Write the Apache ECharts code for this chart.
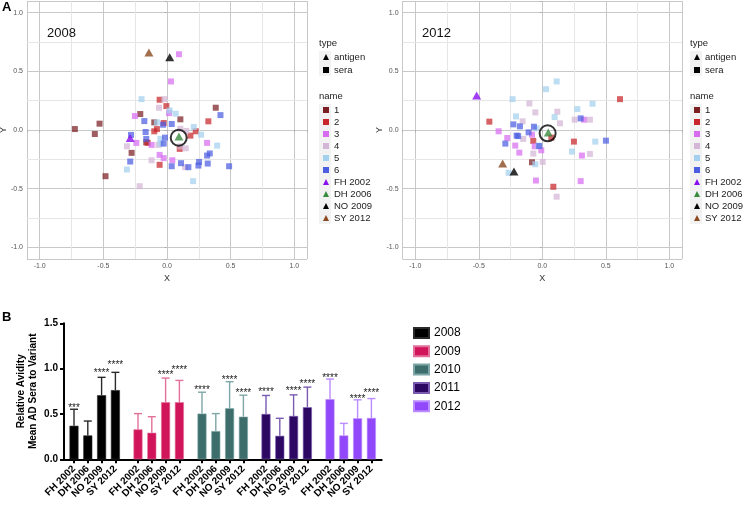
<!DOCTYPE html>
<html>
<head>
<meta charset="utf-8">
<script src="https://cdn.jsdelivr.net/npm/echarts@6/dist/echarts.min.js"></script>
<style>
  html, body { margin: 0; padding: 0; background: #fff; }
  #main { width: 747px; height: 505px; }
</style>
</head>
<body>
<div id="main"></div>
<script>
var F = '"Liberation Sans", Arial, sans-serif';

// ---- panel A: antigenic maps ----
var seraNames = ['1', '2', '3', '4', '5', '6'];
var antigenNames = ['FH 2002', 'DH 2006', 'NO 2009', 'SY 2012'];
var seraColors = ['#7a1f22', '#c8262a', '#d76cf0', '#d4b6d6', '#a3d0ee', '#4b5de0'];
var antigenColors = ['#8a0ff0', '#3a8a3e', '#000000', '#8b4a22'];
var gridMinor = [-0.75, -0.25, 0.25, 0.75];

// 2008 sera, one array per name
var s08_1 = [[-0.21, 0.136], [0.105, 0.091], [-0.1, 0.065], [0.383, 0.19], [-0.724, 0.008], [-0.53, 0.054],
  [-0.567, -0.034], [-0.163, -0.105], [-0.278, -0.195], [-0.483, -0.394]];
var s08_2 = [[-0.058, 0.258], [-0.005, 0.204], [-0.026, 0.06], [0.325, 0.074], [-0.1, -0.011], [-0.079, 0.008],
  [0.226, -0.011], [0.184, -0.048], [-0.152, -0.11], [0.1, -0.161], [-0.058, -0.297]];
var s08_3 = [[0.094, 0.646], [0.031, 0.414], [0.016, 0.144], [-0.252, 0.119], [-0.241, -0.11], [-0.121, -0.127],
  [0.315, -0.11], [-0.058, -0.212], [-0.026, -0.24], [0.042, -0.258]];
var s08_4 = [[-0.021, 0.263], [-0.063, 0.19], [0.105, 0.011], [0.152, -0.008], [-0.315, -0.139], [-0.068, -0.127],
  [0.105, -0.14], [0.147, -0.156], [-0.121, -0.258], [0.142, -0.317], [-0.215, -0.479]];
var s08_5 = [[-0.2, 0.263], [0.021, 0.167], [0.068, 0.139], [-0.079, 0.065], [0.21, 0.025], [0.268, -0.04],
  [-0.052, -0.076], [-0.05, -0.116], [0.394, -0.133], [-0.315, -0.337], [0.205, -0.436]];
var s08_6 = [[-0.178, 0.076], [-0.031, 0.045], [0.037, 0.051], [0.42, 0.127], [-0.283, -0.042], [-0.168, -0.017],
  [-0.163, -0.076], [-0.016, -0.065], [-0.026, -0.116], [0.037, -0.309], [0.11, -0.283], [0.168, -0.317],
  [0.252, -0.272], [0.247, -0.303], [0.315, -0.218], [0.336, -0.2], [0.32, -0.286], [0.488, -0.309], [-0.289, -0.269]];
var antigen2008 = [[-0.289, -0.068], [0.094, -0.056], [0.021, 0.62], [-0.142, 0.66]];
var ring2008 = [0.092, -0.066];

// 2012 sera
var s12_1 = [[-0.081, -0.275]];
var s12_2 = [[0.612, 0.263], [-0.417, 0.071], [-0.071, -0.093], [0.071, -0.065], [0.249, -0.099], [0.087, -0.484]];
var s12_3 = [[0.328, 0.088], [-0.344, -0.011], [-0.081, -0.04], [-0.276, -0.068], [-0.213, -0.133], [-0.06, -0.139],
  [-0.008, -0.173], [0.312, -0.218], [-0.181, -0.193], [-0.05, -0.431], [0.302, -0.436]];
var s12_4 = [[-0.102, 0.227], [0.118, 0.156], [-0.055, 0.15], [-0.155, 0.074], [0.139, 0.057], [0.255, 0.088],
  [0.375, 0.088], [-0.15, -0.076], [0.375, -0.204], [-0.071, -0.201], [0.003, -0.272], [0.113, -0.569]];
var s12_5 = [[0.113, 0.414], [0.029, 0.348], [-0.234, 0.263], [0.276, 0.178], [0.396, 0.224], [-0.207, 0.116],
  [0.097, 0.11], [-0.045, 0.014], [-0.029, -0.133], [0.417, -0.099], [0.234, -0.184], [-0.055, -0.292], [-0.265, -0.365]];
var s12_6 = [[-0.228, 0.048], [-0.176, 0.031], [-0.066, 0.028], [0.302, 0.099], [-0.108, -0.02], [-0.202, -0.048],
  [-0.19, -0.052], [-0.291, -0.116], [-0.024, -0.137], [0.501, -0.091]];
var antigen2012 = [[-0.517, 0.295], [0.047, -0.022], [-0.223, -0.354], [-0.312, -0.286]];
var ring2012 = [0.042, -0.028];

// ---- panel B: relative avidity ----
var years = ['2008', '2009', '2010', '2011', '2012'];
var variants = ['FH 2002', 'DH 2006', 'NO 2009', 'SY 2012'];
var barColors = ['#000000', '#d0155a', '#3d6e6c', '#2d0862', '#9147fa'];
var errColors = ['#2a2a2a', '#e2709a', '#7ea6a6', '#7a5bb0', '#bb8cff'];
var barMeans = [
  [0.37, 0.263, 0.707, 0.763],
  [0.33, 0.293, 0.63, 0.63],
  [0.504, 0.311, 0.563, 0.47],
  [0.5, 0.259, 0.478, 0.574],
  [0.663, 0.263, 0.452, 0.456]
];
var barErrs = [
  [0.552, 0.422, 0.904, 0.959],
  [0.504, 0.47, 0.896, 0.87],
  [0.74, 0.504, 0.856, 0.707],
  [0.704, 0.452, 0.711, 0.796],
  [0.885, 0.396, 0.656, 0.67]
];
var starText = [
  ['***', '', '****', '****'],
  ['', '', '****', '****'],
  ['****', '', '****', '****'],
  ['****', '', '****', '****'],
  ['****', '', '****', '****']
];
var starLevel = [
  [0.589, null, 0.978, 1.07],
  [null, null, 0.952, 1.007],
  [0.785, null, 0.904, 0.759],
  [0.763, null, 0.778, 0.859],
  [0.926, null, 0.685, 0.756]
];

var panels = [
  { year: '2008', left: 27, width: 280, sera: [s08_1, s08_2, s08_3, s08_4, s08_5, s08_6], ag: antigen2008, ring: ring2008, legendLeft: 323, textLeft: 47 },
  { year: '2012', left: 402.6, width: 279.4, sera: [s12_1, s12_2, s12_3, s12_4, s12_5, s12_6], ag: antigen2012, ring: ring2012, legendLeft: 694, textLeft: 422 }
];

var chart = echarts.init(document.getElementById('main'));

function halfLabel(v) {
  var t = v * 2;
  return Math.abs(t - Math.round(t)) < 1e-6 ? v.toFixed(1) : '';
}

function mapAxis(k, isY) {
  return {
    type: 'value', gridIndex: k, min: -1.1, max: 1.1,
    name: isY ? 'Y' : 'X', nameLocation: 'middle', nameGap: isY ? 19 : 15,
    nameRotate: isY ? 90 : 0, nameMoveOverlap: false,
    nameTextStyle: { fontSize: 9, color: '#333', fontFamily: F },
    axisLine: { show: false },
    axisTick: { show: true, length: 2.5, lineStyle: { color: '#aaa', width: 0.8 } },
    axisLabel: { fontSize: 7, color: '#555', margin: 4, fontFamily: F, formatter: halfLabel },
    splitLine: { show: true, lineStyle: { color: '#c8c8c8', width: 1 } }
  };
}

var grids = [], xAxes = [], yAxes = [], series = [], legends = [], titles = [], graphics = [];

panels.forEach(function (p, k) {
  grids.push({ left: p.left, top: 1, width: p.width, height: 258, outerBoundsMode: 'none' });
  xAxes.push(mapAxis(k, false));
  yAxes.push(mapAxis(k, true));

  // minor grid lines
  series.push({
    type: 'scatter', name: 'minor' + k, xAxisIndex: k, yAxisIndex: k, data: [], silent: true,
    markLine: {
      silent: true, z: 1, animation: false, symbol: ['none', 'none'], label: { show: false },
      lineStyle: { color: '#e6e6e6', width: 1, type: 'solid' },
      emphasis: { disabled: true },
      data: gridMinor.map(function (v) { return { xAxis: v }; })
        .concat(gridMinor.map(function (v) { return { yAxis: v }; }))
    }
  });

  seraNames.forEach(function (n, j) {
    series.push({
      type: 'scatter', name: n, xAxisIndex: k, yAxisIndex: k, symbol: 'rect', symbolSize: 6,
      itemStyle: { color: seraColors[j], opacity: 0.72 }, z: 2, data: p.sera[j]
    });
  });
  antigenNames.forEach(function (n, j) {
    series.push({
      type: 'scatter', name: n, xAxisIndex: k, yAxisIndex: k, symbol: 'triangle', symbolSize: [9, 8],
      itemStyle: { color: antigenColors[j] }, z: 3, data: [p.ag[j]]
    });
  });
  series.push({
    type: 'scatter', name: 'ring' + k, xAxisIndex: k, yAxisIndex: k, symbol: 'circle', symbolSize: 16,
    itemStyle: { color: 'rgba(0,0,0,0)', borderColor: '#000', borderWidth: 2 }, z: 4, data: [p.ring]
  });

  titles.push({ text: p.year, left: p.textLeft, top: 27, padding: 0, textStyle: { fontSize: 13, fontWeight: 'normal', color: '#111', fontFamily: F } });
  titles.push({ text: 'type', left: p.legendLeft - 4, top: 38, padding: 0, textStyle: { fontSize: 9.5, fontWeight: 'normal', color: '#222', fontFamily: F } });
  titles.push({ text: 'name', left: p.legendLeft - 4, top: 91, padding: 0, textStyle: { fontSize: 9.5, fontWeight: 'normal', color: '#222', fontFamily: F } });

  var legText = { fontSize: 9.5, color: '#222', lineHeight: 10, fontFamily: F };
  legends.push({
    orient: 'vertical', left: p.legendLeft, top: 52, padding: 0, itemWidth: 6, itemHeight: 6, itemGap: 3,
    selectedMode: false, itemStyle: { opacity: 1 }, textStyle: legText, data: ['antigen', 'sera']
  });
  legends.push({
    orient: 'vertical', left: p.legendLeft, top: 105, padding: 0, itemWidth: 6, itemHeight: 6, itemGap: 2,
    selectedMode: false, itemStyle: { opacity: 1 }, textStyle: legText, data: seraNames.concat(antigenNames)
  });

  graphics.push({ type: 'rect', shape: { x: p.legendLeft - 4, y: 51, width: 12, height: 25 }, style: { fill: '#f2f2f2' }, z: 0 });
  graphics.push({ type: 'rect', shape: { x: p.legendLeft - 4, y: 104, width: 12, height: 120 }, style: { fill: '#f2f2f2' }, z: 0 });
});

// legend-only series for the "type" keys
series.push({ type: 'scatter', name: 'antigen', symbol: 'triangle', xAxisIndex: 0, yAxisIndex: 0, itemStyle: { color: '#000' }, data: [] });
series.push({ type: 'scatter', name: 'sera', symbol: 'rect', xAxisIndex: 0, yAxisIndex: 0, itemStyle: { color: '#000' }, data: [] });

// ---- panel B layout ----
var barTop = 323.3, barH = 136;
// full-width axis frame (index 2)
grids.push({ left: 64, top: barTop, width: 317.7, height: barH, outerBoundsMode: 'none' });
xAxes.push({
  type: 'value', gridIndex: 2, min: 0, max: 1,
  axisLine: { show: true, lineStyle: { color: '#000', width: 2 } },
  axisTick: { show: false }, axisLabel: { show: false }, splitLine: { show: false }
});
yAxes.push({
  type: 'value', gridIndex: 2, min: 0, max: 1.5, interval: 0.5,
  name: 'Relative Avidity\nMean AD Sera to Variant', nameLocation: 'middle', nameGap: 25, nameMoveOverlap: false,
  nameTextStyle: { fontSize: 10, fontWeight: 'bold', color: '#000', lineHeight: 12, fontFamily: F },
  axisLine: { show: true, lineStyle: { color: '#000', width: 2 } },
  axisTick: { show: true, length: 4, lineStyle: { color: '#000', width: 2 } },
  axisLabel: { fontSize: 10, fontWeight: 'bold', color: '#000', margin: 6, fontFamily: F, formatter: function (v) { return v.toFixed(1); } },
  splitLine: { show: false }
});
series.push({ type: 'line', xAxisIndex: 2, yAxisIndex: 2, data: [], silent: true });

function errRender(g) {
  return function (params, api) {
    var i = params.dataIndex;
    var base = api.coord([i, barMeans[g][i]]);
    var top = api.coord([i, barErrs[g][i]]);
    var st = { stroke: errColors[g], lineWidth: 1.4 };
    var kids = [
      { type: 'line', shape: { x1: base[0], y1: base[1], x2: top[0], y2: top[1] }, style: st },
      { type: 'line', shape: { x1: top[0] - 4, y1: top[1], x2: top[0] + 4, y2: top[1] }, style: st }
    ];
    if (starText[g][i]) {
      var s = api.coord([i, starLevel[g][i]]);
      kids.push({
        type: 'text',
        style: {
          text: starText[g][i], x: s[0], y: s[1] + 2.5, textAlign: 'center', align: 'center',
          textVerticalAlign: 'middle', verticalAlign: 'middle', font: '10px ' + F, fill: '#222'
        }
      });
    }
    return { type: 'group', children: kids };
  };
}

years.forEach(function (y, g) {
  var gi = g + 3;
  grids.push({ left: 67.1 + 64 * g, top: barTop, width: 55.2, height: barH, outerBoundsMode: 'none' });
  xAxes.push({
    type: 'category', gridIndex: gi, data: variants,
    axisLine: { show: false },
    axisTick: { show: true, alignWithLabel: true, length: 4, lineStyle: { color: '#000', width: 2 } },
    axisLabel: { interval: 0, rotate: 45, fontSize: 10, fontWeight: 'bold', color: '#000', margin: 8, fontFamily: F },
    splitLine: { show: false }
  });
  yAxes.push({ type: 'value', gridIndex: gi, min: 0, max: 1.5, show: false });
  series.push({
    type: 'bar', name: y, xAxisIndex: gi, yAxisIndex: gi, barWidth: 9, data: barMeans[g],
    itemStyle: { color: barColors[g], borderColor: errColors[g], borderWidth: 0.6 }, z: 3
  });
  series.push({
    type: 'custom', name: 'err' + y, xAxisIndex: gi, yAxisIndex: gi, renderItem: errRender(g), z: 2,
    data: barMeans[g].map(function (v, i) { return [i, v]; })
  });
});

legends.push({
  orient: 'vertical', left: 413, top: 326, padding: 0, itemWidth: 15, itemHeight: 10, itemGap: 4.3,
  icon: 'rect', selectedMode: false, data: years,
  textStyle: { fontSize: 12, color: '#000', lineHeight: 14, fontFamily: F }
});

titles.push({ text: 'A', left: 2, top: 1, padding: 0, textStyle: { fontSize: 13, fontWeight: 'bold', color: '#000', fontFamily: F } });
titles.push({ text: 'B', left: 2, top: 311, padding: 0, textStyle: { fontSize: 13, fontWeight: 'bold', color: '#000', fontFamily: F } });

chart.setOption({
  animation: false,
  backgroundColor: '#fff',
  title: titles,
  grid: grids,
  xAxis: xAxes,
  yAxis: yAxes,
  legend: legends,
  graphic: graphics,
  series: series
});
</script>
</body>
</html>
